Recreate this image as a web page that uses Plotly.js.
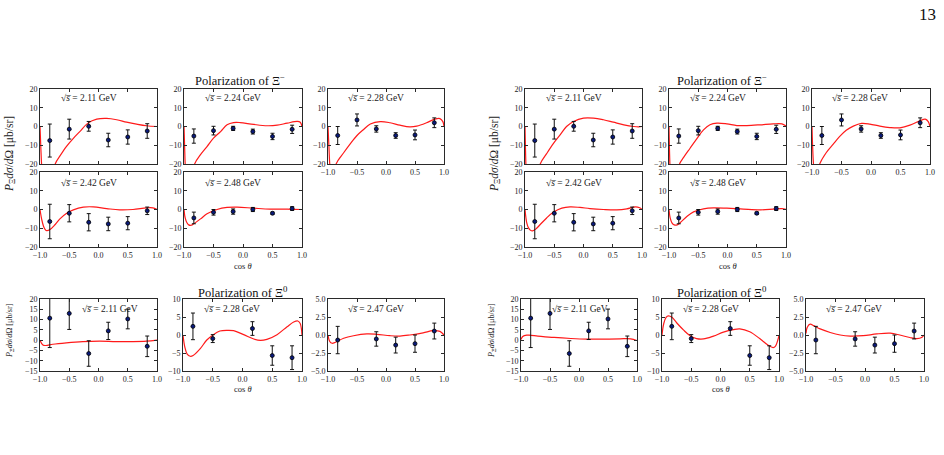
<!DOCTYPE html>
<html>
<head>
<meta charset="utf-8">
<script src="https://cdn.plot.ly/plotly-3.0.1.min.js"></script>
<style>
html, body { margin: 0; padding: 0; background: #fff; }
#chart { width: 944px; height: 455px; }
</style>
</head>
<body>
<div id="chart"></div>
<script>
// ---- measured bins in cos(theta) ----
const cosTheta6 = [-0.833, -0.5, -0.167, 0.167, 0.5, 0.833];
const cosTheta5a = [-0.833, -0.5, 0.167, 0.5, 0.833];
const cosTheta5b = [-0.833, -0.167, 0.167, 0.5, 0.833];

// ---- Xi- polarization data (mub/sr) ----
const xm211 = [-7.5, -1.4, 0.1, -7.2, -5.6, -2.4];
const xm211Err = [8.8, 5.3, 2.6, 3.6, 3.8, 3.9];
const xm224 = [-5.1, -2.2, -1.0, -2.7, -5.3, -1.5];
const xm224Err = [3.8, 2.3, 1.1, 1.3, 1.7, 2.2];
const xm228 = [-4.8, 3.5, -1.3, -4.8, -4.5, 2.0];
const xm228Err = [4.8, 3.2, 1.7, 1.5, 2.6, 2.6];
const xm242 = [-6.4, -2.0, -6.8, -7.7, -7.3, -0.7];
const xm242Err = [9.2, 4.6, 4.6, 3.6, 3.5, 2.0];
const xm248 = [-4.5, -1.5, -1.1, 0.0, -2.0, 0.5];
const xm248Err = [3.1, 1.5, 1.4, 1.1, 0.6, 1.0];

// ---- Xi0 polarization data (mub/sr) ----
const x0211 = [10.7, 13.0, -6.5, 4.5, 10.3, -3.0];
const x0211Err = [14.3, 7.8, 6.2, 4.2, 4.8, 5.0];
const x0228 = [2.4, -1.0, 1.8, -5.7, -6.3];
const x0228Err = [3.7, 1.1, 1.9, 2.7, 3.3];
const x0247 = [-0.7, -0.55, -1.4, -1.2, 0.55];
const x0247Err = [1.9, 1.0, 1.1, 1.2, 1.1];

// ---- model A curves ----
const fitAxm211X = [-1, -0.985, -0.97, -0.94, -0.88, -0.8, -0.74, -0.65, -0.55, -0.43, -0.32, -0.18, -0.03, 0.14, 0.31, 0.48, 0.65, 0.82, 1.0];
const fitAxm211Y = [0, -12, -22, -35, -42, -33, -20, -15.3, -10.7, -6.3, -2.7, 1.8, 3.9, 4.3, 3.6, 2.3, 1.25, 0.4, 0];
const fitAxm224X = [-1, -0.99, -0.98, -0.95, -0.9, -0.85, -0.82, -0.72, -0.61, -0.5, -0.38, -0.27, -0.16, -0.05, 0.18, 0.41, 0.58, 0.75, 0.92, 0.97, 1.0];
const fitAxm224Y = [0, -10, -20, -33, -36, -28, -20, -15, -10.7, -6.2, -2.7, 0.9, 2.1, 2.1, 1.1, 0.4, 0.7, 1.8, 2.7, 2.3, 0];
const fitAxm228X = [-1, -0.985, -0.97, -0.94, -0.9, -0.86, -0.73, -0.62, -0.5, -0.39, -0.27, -0.1, 0.07, 0.24, 0.41, 0.53, 0.7, 0.84, 0.93, 0.98, 1.0];
const fitAxm228Y = [0, -10, -20, -30, -30, -20, -14, -9.4, -4.8, -1.7, 1.3, 2.6, 2.0, 0.7, -0.2, 0.2, 2.0, 3.9, 4.2, 2.6, 0];
const fitAxm242X = [-1, -0.97, -0.94, -0.91, -0.885, -0.83, -0.74, -0.66, -0.55, -0.43, -0.26, -0.09, 0.14, 0.36, 0.59, 0.82, 0.93, 1.0];
const fitAxm242Y = [0, -5.4, -8.9, -10.7, -11.3, -10.7, -8.0, -5.0, -2.1, -0.2, 1.25, 1.4, 0.5, -0.2, 0.0, 0.9, 0.9, 0];
const fitAxm248X = [-1, -0.98, -0.95, -0.92, -0.88, -0.84, -0.72, -0.61, -0.44, -0.27, -0.1, 0.18, 0.46, 0.75, 1.0];
const fitAxm248Y = [0, -4.5, -7.1, -8.2, -8.4, -7.7, -5.0, -2.3, 0, 1.1, 1.25, 0.7, 0.2, 0.2, 0];
const fitAx0211X = [-1, -0.95, -0.9, -0.78, -0.55, -0.27, 0.02, 0.3, 0.59, 0.82, 1.0];
const fitAx0211Y = [0, -2.4, -2.6, -2.0, -1.3, -0.7, -0.5, -0.7, -0.7, -0.5, 0];
const fitAx0228X = [-1, -0.97, -0.93, -0.88, -0.83, -0.71, -0.6, -0.49, -0.38, -0.26, -0.15, 0.02, 0.19, 0.3, 0.41, 0.58, 0.75, 0.86, 0.93, 0.97, 1.0];
const fitAx0228Y = [0, -3.3, -5.3, -5.9, -5.7, -3.8, -1.4, 0.1, 1.1, 1.3, 1.2, 0.1, -1.1, -1.5, -1.2, 0.1, 2.3, 3.6, 3.9, 3.2, 0];
const fitAx0247X = [-1, -0.97, -0.93, -0.87, -0.73, -0.56, -0.33, -0.16, 0.07, 0.24, 0.41, 0.64, 0.81, 0.93, 1.0];
const fitAx0247Y = [0, -0.9, -1.15, -1.0, -0.45, -0.1, 0.15, 0.1, -0.1, -0.15, 0, 0.3, 0.6, 0.5, 0];

// ---- model B curves ----
const fitBxm211X = [-1, -0.985, -0.97, -0.93, -0.87, -0.8, -0.74, -0.63, -0.51, -0.4, -0.29, -0.17, 0, 0.17, 0.34, 0.51, 0.69, 0.86, 0.94, 1.0];
const fitBxm211Y = [0, -20, -32, -42, -40, -30, -20, -14.5, -8.9, -4.5, 0, 2.7, 4.5, 4.5, 3.6, 2.3, 0.9, 0, -0.2, 0];
const fitBxm224X = [-1, -0.985, -0.97, -0.93, -0.88, -0.82, -0.75, -0.64, -0.52, -0.41, -0.3, -0.18, -0.01, 0.16, 0.33, 0.56, 0.78, 0.93, 1.0];
const fitBxm224Y = [0, -20, -30, -35, -30, -20, -16.5, -11.6, -6.3, -1.8, 0.9, 1.8, 1.4, 0.5, 0.5, 0.9, 1.4, 1.4, 0.3];
const fitBxm228X = [-1, -0.99, -0.975, -0.95, -0.91, -0.87, -0.76, -0.64, -0.53, -0.42, -0.3, -0.16, -0.02, 0.15, 0.32, 0.49, 0.66, 0.83, 0.92, 0.97, 1.0];
const fitBxm228Y = [0, -10, -20, -26, -25, -20, -14, -9.4, -5.3, -2.0, 0.2, 1.65, 1.3, 0.2, -0.55, -0.7, 0.7, 3.1, 3.9, 2.6, 0];
const fitBxm242X = [-1, -0.97, -0.94, -0.91, -0.87, -0.81, -0.74, -0.63, -0.51, -0.37, -0.23, -0.06, 0.11, 0.34, 0.57, 0.74, 0.89, 0.96, 1.0];
const fitBxm242Y = [0, -7.1, -9.8, -11.0, -11.4, -10.3, -8.0, -4.5, -1.4, 0.7, 1.4, 1.1, 0.5, 0, -0.2, 0.35, 1.4, 0.9, 0];
const fitBxm248X = [-1, -0.98, -0.95, -0.91, -0.86, -0.81, -0.69, -0.58, -0.41, -0.24, -0.01, 0.27, 0.56, 0.78, 0.93, 1.0];
const fitBxm248Y = [0, -4.5, -7.1, -8.2, -8.2, -7.1, -3.6, -1.25, 0.35, 0.9, 0.7, 0.2, -0.2, 0.2, 0.5, 0];
const fitBx0211X = [-1, -0.97, -0.9, -0.86, -0.71, -0.43, -0.14, 0.14, 0.43, 0.71, 0.89, 1.0];
const fitBx0211Y = [0.3, 1.8, 2.4, 2.4, 2.0, 1.3, 0.8, 0.5, 0.5, 0.65, 0.65, -0.2];
const fitBx0228X = [-1, -0.97, -0.93, -0.89, -0.83, -0.75, -0.63, -0.52, -0.41, -0.29, -0.12, 0.05, 0.22, 0.33, 0.5, 0.67, 0.81, 0.9, 0.94, 0.98, 1.0];
const fitBx0228Y = [0, 3.2, 4.9, 5.3, 4.9, 3.4, 1.35, -0.2, -1.0, -1.1, -0.3, 0.8, 1.5, 1.7, 0.9, -1.0, -2.8, -3.5, -3.1, -1.4, 0];
const fitBx0247X = [-1, -0.98, -0.93, -0.87, -0.76, -0.59, -0.42, -0.25, -0.03, 0.2, 0.43, 0.59, 0.76, 0.88, 0.96, 1.0];
const fitBx0247Y = [0.2, 1.05, 1.5, 1.3, 0.85, 0.35, 0, -0.15, -0.1, 0.15, 0.25, 0, -0.35, -0.5, -0.35, 0];

// ---- tick labels ----
const cosTicks = [-1, -0.5, 0, 0.5, 1];
const energyLabels = ['2.11', '2.24', '2.28', '2.42', '2.48', '2.11', '2.28', '2.47'];

// ---- page geometry (pixels) ----
const W = 944, H = 455;
const px = v => v / W;
const py = v => 1 - v / H;

// panel boxes: [left, top, right, bottom]
const boxesA = [
  [40, 89, 157, 164], [184, 89, 302, 164], [328, 89, 444, 164],
  [40, 172, 157, 247], [184, 172, 302, 247],
  [40, 299, 157, 371], [183, 299, 302, 371], [328, 299, 444, 371]
];
const boxesB = [
  [525, 89, 642, 164], [669, 89, 786, 164], [812, 89, 930, 164],
  [525, 172, 642, 247], [669, 172, 786, 247],
  [521, 299, 637, 371], [662, 299, 779, 371], [806, 299, 924, 371]
];
const labelOffA = [19, 19, 18, 19, 19, 40, 19, 18];
const labelOffB = [19, 19, 18, 19, 19, 29, 19, 18];

const pointSets = [
  [cosTheta6, xm211, xm211Err], [cosTheta6, xm224, xm224Err], [cosTheta6, xm228, xm228Err],
  [cosTheta6, xm242, xm242Err], [cosTheta6, xm248, xm248Err],
  [cosTheta6, x0211, x0211Err], [cosTheta5a, x0228, x0228Err], [cosTheta5b, x0247, x0247Err]
];
const fitsA = [
  [fitAxm211X, fitAxm211Y], [fitAxm224X, fitAxm224Y], [fitAxm228X, fitAxm228Y],
  [fitAxm242X, fitAxm242Y], [fitAxm248X, fitAxm248Y],
  [fitAx0211X, fitAx0211Y], [fitAx0228X, fitAx0228Y], [fitAx0247X, fitAx0247Y]
];
const fitsB = [
  [fitBxm211X, fitBxm211Y], [fitBxm224X, fitBxm224Y], [fitBxm228X, fitBxm228Y],
  [fitBxm242X, fitBxm242Y], [fitBxm248X, fitBxm248Y],
  [fitBx0211X, fitBx0211Y], [fitBx0228X, fitBx0228Y], [fitBx0247X, fitBx0247Y]
];
const yAxisSpec = [
  { range: [-20, 20], dtick: 10, fmt: 'd' }, { range: [-20, 20], dtick: 10, fmt: 'd' }, { range: [-20, 20], dtick: 10, fmt: 'd' },
  { range: [-20, 20], dtick: 10, fmt: 'd' }, { range: [-20, 20], dtick: 10, fmt: 'd' },
  { range: [-15, 20], dtick: 5, fmt: 'd' }, { range: [-10, 10], dtick: 5, fmt: 'd' }, { range: [-5, 5], dtick: 2.5, fmt: '.1f' }
];
const showXLabels = [false, false, true, true, true, true, true, true];

const serif = 'Liberation Serif';
const axisColor = '#2a2a2a';
const data = [];
const layout = {
  width: W, height: H,
  margin: { l: 0, r: 0, t: 0, b: 0 },
  paper_bgcolor: '#fff', plot_bgcolor: '#fff',
  showlegend: false,
  font: { family: serif, size: 8, color: '#222' },
  annotations: []
};

let axisIndex = 0;
function addGroup(boxes, fits, offs) {
  for (let k = 0; k < 8; k++) {
    axisIndex++;
    const n = axisIndex === 1 ? '' : String(axisIndex);
    const [l, t, r, b] = boxes[k];
    const spec = yAxisSpec[k];
    layout['xaxis' + n] = {
      domain: [px(l), px(r)], anchor: 'y' + n, range: [-1, 1],
      tickvals: cosTicks, tickformat: '.1f', showticklabels: showXLabels[k],
      ticks: 'inside', ticklen: 3, tickcolor: axisColor, mirror: 'ticks',
      showline: true, linecolor: axisColor, linewidth: 1,
      showgrid: false, zeroline: false, fixedrange: true,
      tickfont: { family: serif, size: 8, color: '#222' }
    };
    layout['yaxis' + n] = {
      domain: [py(b), py(t)], anchor: 'x' + n, range: spec.range,
      dtick: spec.dtick, tick0: 0, tickformat: spec.fmt,
      ticks: 'inside', ticklen: 3, tickcolor: axisColor, mirror: 'ticks',
      showline: true, linecolor: axisColor, linewidth: 1,
      showgrid: false, zeroline: false, fixedrange: true,
      tickfont: { family: serif, size: 8, color: '#222' }
    };
    const [fx, fy] = fits[k];
    data.push({
      type: 'scatter', mode: 'lines', x: fx, y: fy,
      xaxis: 'x' + n, yaxis: 'y' + n,
      line: { color: '#ff1a1a', width: 1.2, shape: 'spline', smoothing: 1 },
      hoverinfo: 'skip'
    });
    const [cx, cy, ce] = pointSets[k];
    data.push({
      type: 'scatter', mode: 'markers', x: cx, y: cy,
      xaxis: 'x' + n, yaxis: 'y' + n,
      marker: { size: 4, color: '#0a1a7a', line: { color: '#000', width: 0.8 } },
      error_y: { type: 'data', array: ce, visible: true, color: '#111', thickness: 1, width: 2 },
      hoverinfo: 'skip'
    });
    layout.annotations.push({
      xref: 'paper', yref: 'paper',
      x: px(l + offs[k]), y: py(k < 3 ? t + 9 : (k < 5 ? t + 11 : t + 10)),
      xanchor: 'left', yanchor: 'middle', showarrow: false,
      text: '√<i>s\u0305</i> = ' + energyLabels[k] + ' GeV',
      font: { family: serif, size: 9.5, color: '#222' }
    });
  }
}
addGroup(boxesA, fitsA, labelOffA);
addGroup(boxesB, fitsB, labelOffB);

// block titles, axis titles, page number
const titleSpots = [[240, 80, 'Polarization of Ξ<sup>−</sup>'], [722, 80, 'Polarization of Ξ<sup>−</sup>'],
                    [243, 292, 'Polarization of Ξ<sup>0</sup>'], [722, 292, 'Polarization of Ξ<sup>0</sup>']];
titleSpots.forEach(([x, y, txt]) => layout.annotations.push({
  xref: 'paper', yref: 'paper', x: px(x), y: py(y), xanchor: 'center', yanchor: 'middle',
  showarrow: false, text: txt, font: { family: serif, size: 12.5, color: '#111' }
}));

const yTitle = '<i>P</i><sub>Ξ</sub><i>dσ</i>/<i>d</i>Ω [μb/sr]';
[[10, 154, 11.5], [495, 154, 11.5], [10, 331, 8.2], [492, 331, 8.2]].forEach(([x, y, s]) => layout.annotations.push({
  xref: 'paper', yref: 'paper', x: px(x), y: py(y), xanchor: 'center', yanchor: 'middle',
  textangle: -90, showarrow: false, text: yTitle, font: { family: serif, size: s, color: '#222' }
}));

[[243, 266], [728, 266], [243, 389], [721, 389]].forEach(([x, y]) => layout.annotations.push({
  xref: 'paper', yref: 'paper', x: px(x), y: py(y), xanchor: 'center', yanchor: 'middle',
  showarrow: false, text: 'cos <i>θ</i>', font: { family: serif, size: 8.5, color: '#222' }
}));

layout.annotations.push({
  xref: 'paper', yref: 'paper', x: px(927), y: py(15), xanchor: 'center', yanchor: 'middle',
  showarrow: false, text: '13', font: { family: serif, size: 17, color: '#111' }
});

Plotly.newPlot('chart', data, layout, { staticPlot: true, displayModeBar: false });
</script>
</body>
</html>
